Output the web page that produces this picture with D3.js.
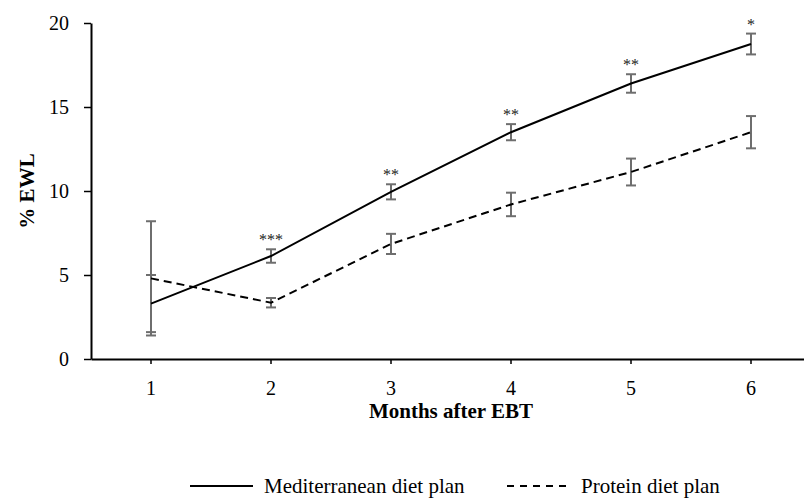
<!DOCTYPE html>
<html>
<head>
<meta charset="utf-8">
<script src="https://cdn.jsdelivr.net/npm/d3@7"></script>
<style>
  body { margin: 0; background: #fff; }
  svg { font-family: "Liberation Serif", "Times New Roman", serif; }
</style>
</head>
<body>
<svg></svg>
<script>
// months after EBT, % EWL for the two diet plans (mean and error)
let months   = [1, 2, 3, 4, 5, 6];
let medMean  = [3.3, 6.13, 9.95, 13.5, 16.4, 18.75];
let medErr   = [1.7, 0.4, 0.45, 0.48, 0.55, 0.62];
let protMean = [4.8, 3.35, 6.85, 9.2, 11.13, 13.5];
let protErr  = [3.4, 0.28, 0.6, 0.7, 0.8, 0.96];
let stars    = ['', '***', '**', '**', '**', '*'];
let yTicks   = [0, 5, 10, 15, 20];

let width  = 804,
    height = 499;
let plotLeft = 91, plotRight = 811, plotTop = 23, plotBottom = 359;

let svg = d3.select('svg')
    .attr('width', width)
    .attr('height', height);

let xScale = d3.scaleBand()
                .domain(months)
                .range([plotLeft, plotRight])
                .padding(0),
    xPos   = d => xScale(d) + xScale.bandwidth() / 2,
    yScale = d3.scaleLinear()
                .domain([0, 20])
                .range([plotBottom, plotTop]);

let series = [
  { name: 'Mediterranean diet plan', mean: medMean, err: medErr, dash: null },
  { name: 'Protein diet plan', mean: protMean, err: protErr, dash: '8,5' }
];

// X axis
let xAxis = svg.append('g')
    .attr('transform', `translate(0, ${plotBottom})`)
    .call(d3.axisBottom(xScale).tickSize(5).tickSizeOuter(0).tickPadding(17));
// Y axis
let yAxis = svg.append('g')
    .attr('transform', `translate(${plotLeft}, 0)`)
    .call(d3.axisLeft(yScale).tickValues(yTicks).tickSize(7).tickSizeOuter(0).tickPadding(15));

[xAxis, yAxis].forEach(g => {
  g.select('.domain').attr('stroke', '#000').attr('stroke-width', 2);
  g.selectAll('.tick line').attr('stroke', '#000').attr('stroke-width', 1.5);
  g.selectAll('.tick text')
    .attr('font-family', '"Liberation Serif", serif')
    .attr('font-size', 20)
    .attr('fill', '#000');
});

// error bars
series.forEach(s => {
  let g = svg.append('g').attr('stroke', '#6e6e6e').attr('stroke-width', 2);
  months.forEach((m, i) => {
    let x  = xPos(m),
        y1 = yScale(s.mean[i] + s.err[i]),
        y2 = yScale(s.mean[i] - s.err[i]);
    g.append('line').attr('x1', x).attr('x2', x).attr('y1', y1).attr('y2', y2);
    g.append('line').attr('x1', x - 5).attr('x2', x + 5).attr('y1', y1).attr('y2', y1);
    g.append('line').attr('x1', x - 5).attr('x2', x + 5).attr('y1', y2).attr('y2', y2);
  });
});

// lines
let line = d3.line()
    .x((d, i) => xPos(months[i]))
    .y(d => yScale(d));

series.forEach(s => {
  svg.append('path')
    .datum(s.mean)
    .attr('fill', 'none')
    .attr('stroke', '#000')
    .attr('stroke-width', 2)
    .attr('stroke-dasharray', s.dash)
    .attr('d', line);
});

// significance stars
svg.append('g')
  .selectAll('text')
  .data(months)
  .enter()
  .append('text')
    .attr('x', d => xPos(d))
    .attr('y', (d, i) => yScale(medMean[i] + medErr[i]) - 4)
    .attr('font-size', 16)
    .attr('fill', '#222')
    .style('text-anchor', 'middle')
    .text((d, i) => stars[i]);

// axis titles
svg.append('text')
    .attr('x', 451)
    .attr('y', 418)
    .attr('font-size', 21)
    .attr('font-weight', 'bold')
    .style('text-anchor', 'middle')
    .text('Months after EBT');

svg.append('text')
    .attr('transform', 'rotate(-90)')
    .attr('x', -yScale(10))
    .attr('y', 34)
    .attr('font-size', 21)
    .attr('font-weight', 'bold')
    .style('text-anchor', 'middle')
    .text('% EWL');

// legend
let legendX = [190, 507],
    legendY = 486;
series.forEach((s, i) => {
  let g = svg.append('g').attr('transform', `translate(${legendX[i]}, ${legendY})`);
  g.append('line')
    .attr('x1', 0).attr('x2', 63)
    .attr('stroke', '#000')
    .attr('stroke-width', 2)
    .attr('stroke-dasharray', s.dash ? '7,6' : null);
  g.append('text')
    .attr('x', 74)
    .attr('y', 7)
    .attr('font-size', 21)
    .text(s.name);
});
</script>
</body>
</html>
